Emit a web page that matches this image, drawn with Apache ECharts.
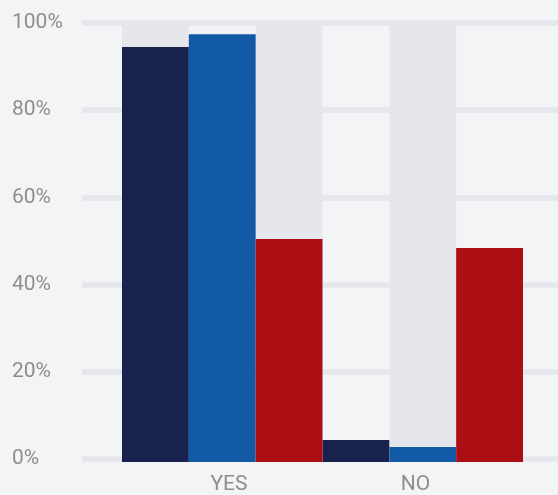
<!DOCTYPE html>
<html>
<head>
<meta charset="utf-8">
<script src="https://cdn.jsdelivr.net/npm/echarts@6/dist/echarts.min.js"></script>
<style>
html,body{margin:0;padding:0;background:#f3f4f6;}
#c{width:558px;height:495px;}
</style>
</head>
<body>
<div id="c"></div>
<script>
var categories = ['YES', 'NO'];
var navyValues = [94.5, 5.0];
var blueValues = [97.4, 3.4];
var redValues = [50.8, 48.7];
var yTicks = [0, 20, 40, 60, 80, 100];
// alternating light column shading behind the six bars
var shadeColumns = ['c1', 'c2', 'c3', 'c4', 'c5', 'c6'];
var shadeValues = [100, 0, 100, 0, 100, 0];

var FONT = 'Roboto';
var TXT = '#8e8e8e';

var chart = echarts.init(document.getElementById('c'));
chart.setOption({
  backgroundColor: '#f3f4f6',
  animation: false,
  grid: [
    {left: 82, right: 0, top: 22.8, bottom: 35.8},
    {left: 122, right: 35, top: 22.8, bottom: 33},
    {left: 135.75, right: 49.25, top: 22.8, bottom: 33}
  ],
  xAxis: [
    {gridIndex: 0, type: 'value', show: false, min: 0, max: 1},
    {gridIndex: 1, type: 'category', data: categories, show: false},
    {gridIndex: 1, type: 'category', data: shadeColumns, show: false},
    {gridIndex: 2, type: 'category', data: categories,
      axisLine: {show: false}, axisTick: {show: false}, splitLine: {show: false},
      axisLabel: {color: TXT, fontFamily: FONT, fontSize: 21, margin: 12}}
  ],
  yAxis: [
    {gridIndex: 0, type: 'value', min: 0, max: 100, interval: 20,
      axisLine: {show: false}, axisTick: {show: false},
      splitLine: {show: true, lineStyle: {color: '#e6e7ec', width: 5.6}},
      axisLabel: {color: TXT, fontFamily: FONT, fontSize: 21, align: 'left', margin: 70,
        formatter: function (v) { return yTicks.indexOf(v) >= 0 ? v + '%' : ''; }}},
    {gridIndex: 1, type: 'value', min: 0, max: 100, show: false},
    {gridIndex: 2, type: 'value', min: 0, max: 100, show: false}
  ],
  series: [
    {type: 'bar', xAxisIndex: 2, yAxisIndex: 1, data: shadeValues, barCategoryGap: '0%',
      itemStyle: {color: '#e6e7ec'}, z: 1, silent: true},
    {type: 'bar', xAxisIndex: 1, yAxisIndex: 1, data: navyValues, barGap: '0%', barCategoryGap: '0%',
      itemStyle: {color: '#19224d'}, z: 3},
    {type: 'bar', xAxisIndex: 1, yAxisIndex: 1, data: blueValues, barGap: '0%', barCategoryGap: '0%',
      itemStyle: {color: '#125aa6'}, z: 3},
    {type: 'bar', xAxisIndex: 1, yAxisIndex: 1, data: redValues, barGap: '0%', barCategoryGap: '0%',
      itemStyle: {color: '#ab0f14'}, z: 3}
  ]
});
</script>
</body>
</html>
